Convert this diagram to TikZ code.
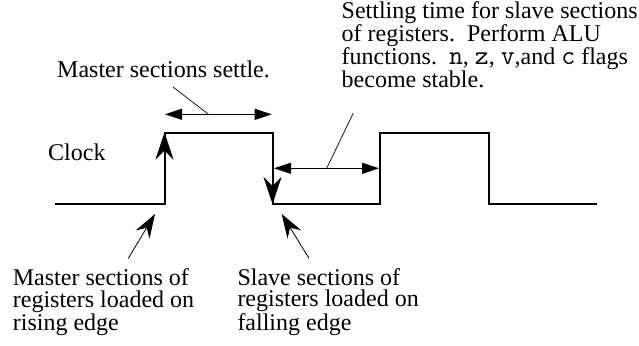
\documentclass[tikz,border=0pt]{standalone}
\usepackage{fontspec}
\setmainfont{Liberation Serif}
\usetikzlibrary{arrows.meta}
\newcommand{\flagname}[1]{{\fontsize{27}{21.7}\selectfont\ttfamily #1}}

\begin{document}
\begin{tikzpicture}[x=1pt, y=-1pt,
					every node/.style={inner sep=0pt, anchor=base west, align=left,
						font=\fontsize{24}{21.7}\selectfont},
					wave/.style={line width=2pt},
					edgetip/.style={line width=2pt, -{Stealth[length=27pt, width=18pt, inset=9pt]}},
					span/.style={line width=1pt, {Triangle[length=17pt, width=11pt]}-{Triangle[length=17pt, width=11pt]}},
					leader/.style={line width=0.7pt},
					pointer/.style={line width=0.8pt, -{Stealth[length=24pt, width=16pt, inset=8pt]}}]
					\useasboundingbox (0,0) rectangle (639,345);
					% clock waveform
					\coordinate (w0) at (55,204);
					\coordinate (r1) at (164.5,204);
					\coordinate (r1t) at (164.5,132.5);
					\coordinate (f1t) at (272.5,132.5);
					\coordinate (f1) at (272.5,204);
					\coordinate (r2) at (380,204);
					\coordinate (r2t) at (380,132.5);
					\coordinate (f2t) at (488.5,132.5);
					\coordinate (f2) at (488.5,204);
					\coordinate (w1) at (597,204);
					\draw[wave] (w0) -- (r1) -- (r1t) -- (f1t) -- (f1) -- (r2) -- (r2t) -- (f2t) -- (f2) -- (w1);
					\draw[edgetip] (r1) -- (r1t);
					\draw[edgetip] (f1t) -- (f1);
					% labels (anchored on the baseline of their last line)
					\node (clk) at (48,160.7) {Clock};
					\node (mset) at (57,77.3) {Master sections settle.};
					\node (sset) at (341.5,87.5) {Settling time for slave sections\\of registers.\ \ Perform ALU\\functions.\ \ \flagname{n}, \flagname{z}, \flagname{v},and \flagname{c} flags\\become stable.};
					\node (mload) at (12.7,330) {Master sections of\\registers loaded on\\rising edge};
					\node (sload) at (237.3,330) {Slave sections of\\registers loaded on\\falling edge};
					% spans and leaders
					\coordinate (s1a) at (165,114.3);
					\coordinate (s1b) at (271.7,114.3);
					\coordinate (s2a) at (274,168.3);
					\coordinate (s2b) at (379,168.3);
					\coordinate (l1a) at (173,87);
					\coordinate (l1b) at (208.5,114.3);
					\coordinate (l2a) at (353.3,113);
					\coordinate (l2b) at (326.7,168.3);
					\draw[span] (s1a) -- (s1b);
					\draw[span] (s2a) -- (s2b);
					\draw[leader] (l1a) -- (l1b);
					\draw[leader] (l2a) -- (l2b);
					% pointers to edges
					\coordinate (p1a) at (128.3,258.3);
					\coordinate (p1b) at (155,214);
					\coordinate (p2a) at (309,258.3);
					\coordinate (p2b) at (281.7,214);
					\draw[pointer] (p1a) -- (p1b);
					\draw[pointer] (p2a) -- (p2b);
				\end{tikzpicture}
\end{document}
